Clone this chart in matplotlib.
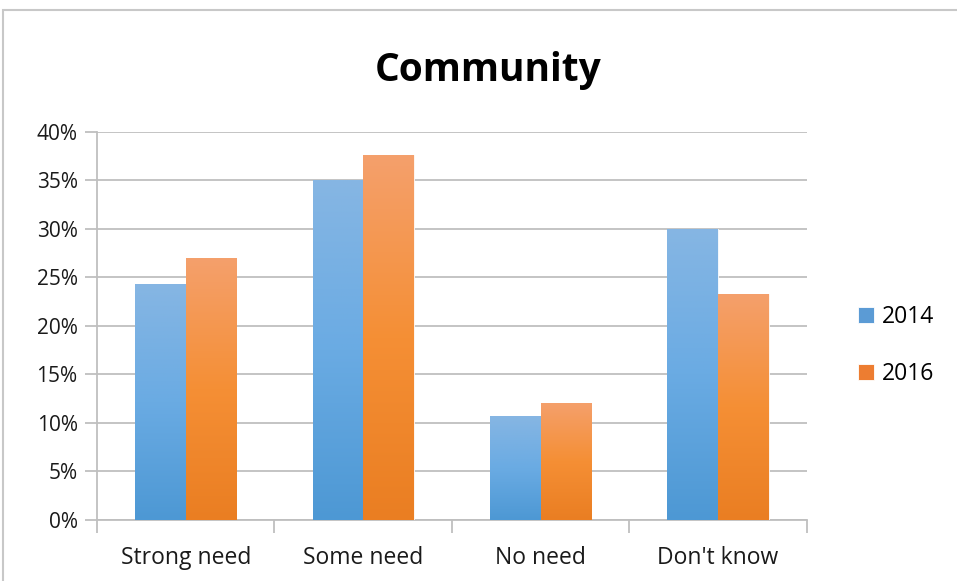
import numpy as np
import matplotlib
matplotlib.use("Agg")
import matplotlib.pyplot as plt
from matplotlib.colors import LinearSegmentedColormap
from matplotlib.patches import Rectangle

categories = ["Strong need", "Some need", "No need", "Don't know"]
years = ["2014", "2016"]
vals_2014 = [24.3, 35.0, 10.7, 30.0]
vals_2016 = [27.0, 37.6, 12.1, 23.3]
y_ticks = [0, 5, 10, 15, 20, 25, 30, 35, 40]

plt.rcParams["font.family"] = ["Open Sans", "DejaVu Sans"]

fig = plt.figure(figsize=(9.57, 5.81), dpi=100)
ax = fig.add_axes([0.1014, 0.105, 0.7416, 0.668])

# outer chart border
fig.patches.append(Rectangle((0.003, -0.01), 1.1, 0.993, transform=fig.transFigure,
                             fill=False, edgecolor="#c8c8c8", linewidth=1.5))

x = np.arange(len(categories))
w = 0.285
bars_a = ax.bar(x - w / 2, vals_2014, w, color="#5B9BD5", label=years[0], zorder=3)
bars_b = ax.bar(x + w / 2, vals_2016, w, color="#ED7D31", label=years[1], zorder=3)

# vertical gradient fill, lighter at the top
cmaps = {
    "a": LinearSegmentedColormap.from_list("blue", ["#4d98d4", "#6aabe3", "#86b6e3"]),
    "b": LinearSegmentedColormap.from_list("orange", ["#ea7e22", "#f58f35", "#f4a06c"]),
}
grad = np.linspace(0, 1, 256).reshape(-1, 1)
for key, bars in (("a", bars_a), ("b", bars_b)):
    for p in bars:
        x0, y0 = p.get_x(), p.get_y()
        im = ax.imshow(grad, cmap=cmaps[key], origin="lower", aspect="auto",
                       extent=[x0, x0 + p.get_width(), y0, y0 + p.get_height()],
                       zorder=3.5)
        im.set_clip_path(p)
        p.set_edgecolor("white")
        p.set_linewidth(0.6)

ax.set_xlim(-0.5, len(categories) - 0.5)
ax.set_ylim(0, 40)
ax.set_yticks(y_ticks)
ax.set_yticklabels([f"{t}%" for t in y_ticks], fontsize=15, color="#1a1a1a")
ax.set_xticks(x)
ax.set_xticklabels(categories, fontsize=16.5, color="#1a1a1a")
ax.set_xticks(np.arange(-0.5, len(categories)), minor=True)
ax.tick_params(axis="x", which="major", length=0, pad=19)
ax.tick_params(axis="x", which="minor", length=9, color="#bfbfbf", width=1.3)
ax.tick_params(axis="y", length=9, color="#bfbfbf", width=1.3, pad=5)

ax.grid(axis="y", color="#bfbfbf", linewidth=1.3, zorder=0)
for s in ["top", "right"]:
    ax.spines[s].set_visible(False)
for s in ["left", "bottom"]:
    ax.spines[s].set_color("#bfbfbf")
    ax.spines[s].set_linewidth(1.3)

fig.text(0.51, 0.878, "Community", ha="center", va="center",
         fontsize=28, fontweight="bold")

leg = fig.legend(handles=[bars_a, bars_b], labels=years, loc="center left",
                 bbox_to_anchor=(0.875, 0.405), frameon=False, fontsize=16.5,
                 handlelength=0.7, handleheight=0.7, handletextpad=0.35,
                 labelspacing=1.45)

fig.savefig("out.png", dpi=100)
